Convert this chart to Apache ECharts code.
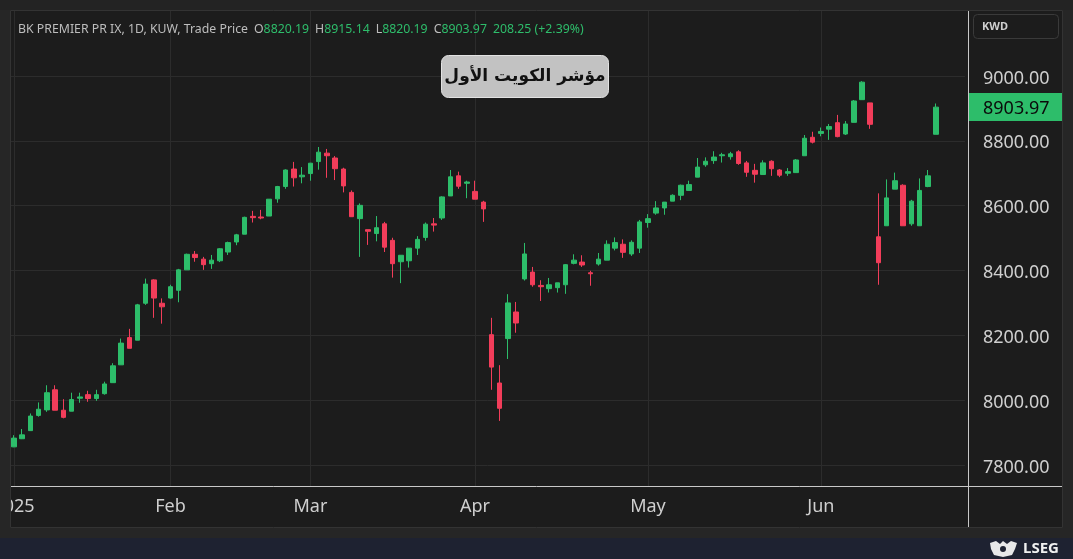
<!DOCTYPE html>
<html><head><meta charset="utf-8">
<script src="https://cdn.jsdelivr.net/npm/echarts@6/dist/echarts.min.js"></script>
<style>html,body{margin:0;padding:0;background:#262626;overflow:hidden}#c{width:1073px;height:559px}</style>
</head><body><div id="c"></div>
<script>
// ---- DATA ----
const opens  = [7856,7881,7906,7953,7970,8032,7969,7966,8006,8017,8005,8020,8054,8109,8193,8185,8299,8371,8299,8315,
8339,8402,8450,8435,8421,8430,8457,8488,8512,8567,8565,8568,8621,8659,8713,8689,8699,8736,8762,8747,
8713,8641,8560,8526,8514,8544,8493,8427,8430,8469,8502,8544,8562,8630,8692,8669,8644,8611,8202,8053,
8190,8272,8374,8395,8354,8344,8347,8356,8422,8426,8393,8420,8432,8469,8481,8451,8469,8548,8577,8593,
8614,8632,8647,8688,8726,8739,8754,8751,8766,8732,8709,8696,8737,8710,8700,8702,8754,8811,8823,8836,
8856,8821,8857,8927,8917,8504,8538,8651,8663,8544,8538,8659,8820.19];
const closes = [7883,7893,7951,7972,8023,7969,7947,8002,8010,8005,8017,8050,8106,8176,8160,8294,8358,8315,8288,8350,
8402,8450,8440,8418,8432,8467,8486,8510,8564,8563,8562,8620,8659,8710,8686,8694,8731,8765,8754,8714,
8661,8566,8601,8521,8532,8472,8421,8447,8469,8496,8543,8540,8627,8689,8660,8673,8620,8590,8102,7975,
8300,8238,8451,8356,8350,8356,8362,8418,8432,8417,8390,8435,8481,8486,8456,8487,8550,8560,8593,8611,
8632,8663,8665,8719,8737,8750,8757,8760,8730,8703,8697,8732,8714,8694,8705,8741,8808,8796,8829,8844,
8813,8852,8923,8981,8851,8424,8624,8677,8538,8614,8647,8692,8903.97];
const lows   = [7855,7880,7906,7949,7964,7969,7944,7966,7992,7995,7998,8017,8054,8109,8160,8185,8294,8254,8236,8313,
8302,8402,8427,8402,8405,8426,8448,8478,8512,8548,8558,8568,8609,8652,8659,8669,8677,8711,8686,8679,
8641,8566,8442,8479,8490,8457,8378,8361,8409,8448,8492,8520,8556,8630,8652,8623,8620,8550,8032,7936,
8127,8208,8369,8350,8306,8332,8332,8328,8419,8411,8353,8415,8432,8462,8439,8445,8454,8532,8572,8572,
8614,8617,8646,8688,8720,8729,8733,8742,8726,8689,8671,8696,8692,8688,8692,8702,8754,8792,8814,8803,
8811,8818,8857,8927,8837,8356,8538,8651,8538,8538,8538,8657,8820.19];
const highs  = [7892,7911,7959,7993,8046,8046,8003,8023,8023,8029,8032,8057,8114,8190,8220,8297,8375,8373,8314,8356,
8405,8452,8460,8442,8448,8469,8489,8513,8566,8584,8587,8620,8661,8712,8735,8719,8732,8781,8775,8753,
8717,8647,8607,8526,8568,8550,8501,8447,8469,8506,8548,8562,8629,8710,8705,8677,8677,8615,8254,8108,
8327,8303,8485,8411,8370,8377,8362,8420,8450,8447,8399,8454,8493,8502,8496,8493,8556,8574,8614,8611,
8635,8665,8677,8747,8749,8768,8763,8766,8771,8738,8729,8740,8740,8713,8716,8744,8818,8828,8841,8852,
8880,8861,8926,8984,8917,8638,8681,8702,8666,8618,8684,8710,8915.14];
const tickIndex  = [0, 19, 36, 56, 77, 98];
const tickLabels = ['2025', 'Feb', 'Mar', 'Apr', 'May', 'Jun'];
const yMin = 7800, yMax = 9000, yStep = 200;
const lastClose = 8903.97;
const titleParts = [['BK PREMIER PR IX, 1D, KUW, Trade Price', ''], ['O', '8820.19'], ['H', '8915.14'], ['L', '8820.19'], ['C', '8903.97'], ['', '208.25 (+2.39%)']];
const annotation = 'مؤشر الكويت الأول';
const currency = 'KWD';

// categories: one per trading session + empty slots on the right
const categories = opens.map((_, i) => 's' + i).concat(['p1', 'p2', 'p3']);
const candles = opens.map((o, i) => [o, closes[i], lows[i], highs[i]]);

const UP = '#2dbd6a', DOWN = '#f23d5a', GRID = '#2c2c2c', TXT = '#cfcfcf';
const FONT = 'Noto Sans';

const chart = echarts.init(document.getElementById('c'));

let titleText = titleParts.map(([k, v]) => (k ? '{g|' + k + '}' : '') + (v ? '{v|' + v + '}' : '')).join('{s| }');

chart.setOption({
  animation: false,
  backgroundColor: '#1c1c1c',
  title: {
    text: titleText, left: 18, top: 23, padding: 0,
    textStyle: { fontSize: 12.3, fontFamily: FONT, fontWeight: 'normal', rich: {
      g: { color: '#bdbdbd', fontSize: 12.3, fontFamily: FONT, fontWeight: 'normal' },
      v: { color: '#2ebd6b', fontSize: 12.3, fontFamily: FONT, fontWeight: 'normal' },
      s: { fontSize: 12.3, width: 6 }
    } }
  },
  grid: { left: 9.9, width: 955, top: 76, height: 389, containLabel: false, outerBoundsMode: 'none' },
  xAxis: {
    type: 'category', data: categories, boundaryGap: true,
    axisLine: { show: false }, axisTick: { show: false }, splitLine: { show: false },
    axisLabel: {
      interval: (i) => tickIndex.includes(i),
      formatter: (v, i) => { const k = tickIndex.indexOf(i); return k >= 0 ? tickLabels[k] : ''; },
      margin: 33, color: TXT, fontSize: 18, fontFamily: FONT
    }
  },
  yAxis: {
    type: 'value', position: 'right', min: yMin, max: yMax, interval: yStep, scale: true,
    axisLine: { show: false }, axisTick: { show: false },
    splitLine: { lineStyle: { color: GRID, width: 1 } },
    axisLabel: {
      formatter: (v) => '{a|' + v.toFixed(2) + '}', margin: 18,
      rich: { a: { color: TXT, fontSize: 18, fontFamily: FONT, padding: [5, 0, 0, 0] } }
    }
  },
  series: [{
    type: 'candlestick', data: candles, barWidth: 5,
    itemStyle: { color: UP, color0: DOWN, borderColor: UP, borderColor0: DOWN, borderWidth: 1 }
  }]
});

const xsTicks = tickIndex.map(i => chart.convertToPixel({ xAxisIndex: 0 }, categories[i]));
const yTag = chart.convertToPixel({ yAxisIndex: 0 }, lastClose);

const g = [];
// vertical grid lines
xsTicks.forEach(x => g.push({ type: 'line', z: 0, silent: true, shape: { x1: Math.round(x) + 0.5, y1: 10, x2: Math.round(x) + 0.5, y2: 486 }, style: { stroke: GRID, lineWidth: 1 } }));
// axis separator lines
g.push({ type: 'line', z: 20, silent: true, shape: { x1: 10, y1: 486.5, x2: 1063, y2: 486.5 }, style: { stroke: '#c8c8c8', lineWidth: 1 } });
g.push({ type: 'line', z: 20, silent: true, shape: { x1: 968.5, y1: 10, x2: 968.5, y2: 528 }, style: { stroke: '#c8c8c8', lineWidth: 1 } });
// frame strips
g.push({ type: 'rect', z: 100, silent: true, shape: { x: 0, y: 0, width: 10, height: 559 }, style: { fill: '#262626' } });
g.push({ type: 'rect', z: 100, silent: true, shape: { x: 1063, y: 0, width: 10, height: 559 }, style: { fill: '#262626' } });
g.push({ type: 'rect', z: 100, silent: true, shape: { x: 0, y: 0, width: 1073, height: 10 }, style: { fill: '#232323' } });
g.push({ type: 'rect', z: 100, silent: true, shape: { x: 0, y: 528, width: 1073, height: 10 }, style: { fill: '#262626' } });
g.push({ type: 'rect', z: 100, silent: true, shape: { x: 0, y: 538, width: 1073, height: 21 }, style: { fill: '#1e2231' } });
g.push({ type: 'rect', z: 101, silent: true, shape: { x: 10.5, y: 10.5, width: 1052, height: 517 }, style: { fill: 'none', stroke: '#333333', lineWidth: 1 } });
// currency box
g.push({ type: 'rect', z: 30, silent: true, shape: { x: 973.5, y: 14.5, width: 85, height: 24, r: 4 }, style: { fill: '#1c1c1c', stroke: '#3a3a3a', lineWidth: 1 } });
g.push({ type: 'text', z: 31, silent: true, style: { x: 982, y: 27, text: currency, fill: '#cfcfcf', font: 'bold 11px "Noto Sans"', verticalAlign: 'middle' } });
// last price tag
g.push({ type: 'rect', z: 40, silent: true, shape: { x: 969, y: Math.round(yTag) - 14, width: 93, height: 28 }, style: { fill: UP } });
g.push({ type: 'text', z: 41, silent: true, style: { x: 983, y: yTag + 2, text: lastClose.toFixed(2), fill: '#0b0b0b', font: '18px "Noto Sans"', verticalAlign: 'middle' } });
// annotation label
g.push({ type: 'rect', z: 40, silent: true, shape: { x: 441.5, y: 55.5, width: 167, height: 42, r: 7 }, style: { fill: '#c2c2c2', stroke: '#e2e2e2', lineWidth: 1 } });
g.push({ type: 'text', z: 41, silent: true, style: { x: 525, y: 77, text: annotation, fill: '#111111', font: 'bold 17px "DejaVu Sans"', align: 'center', verticalAlign: 'middle' } });
// LSEG logo
g.push({ type: 'polygon', z: 110, silent: true, shape: { points: [[990,543],[996,541],[1000,544],[1003,541],[1007,544],[1011,541],[1017,543],[1015,549],[1012,555],[1003,557],[994,555],[991,549]] }, style: { fill: '#e8e8e8' } });
g.push({ type: 'circle', z: 111, silent: true, shape: { cx: 1003, cy: 549, r: 3 }, style: { fill: '#1e2231' } });
g.push({ type: 'text', z: 110, silent: true, style: { x: 1023, y: 549, text: 'LSEG', fill: '#f0f0f0', font: 'bold 15px "Noto Sans"', verticalAlign: 'middle' } });

chart.setOption({ graphic: g });
</script></body></html>
